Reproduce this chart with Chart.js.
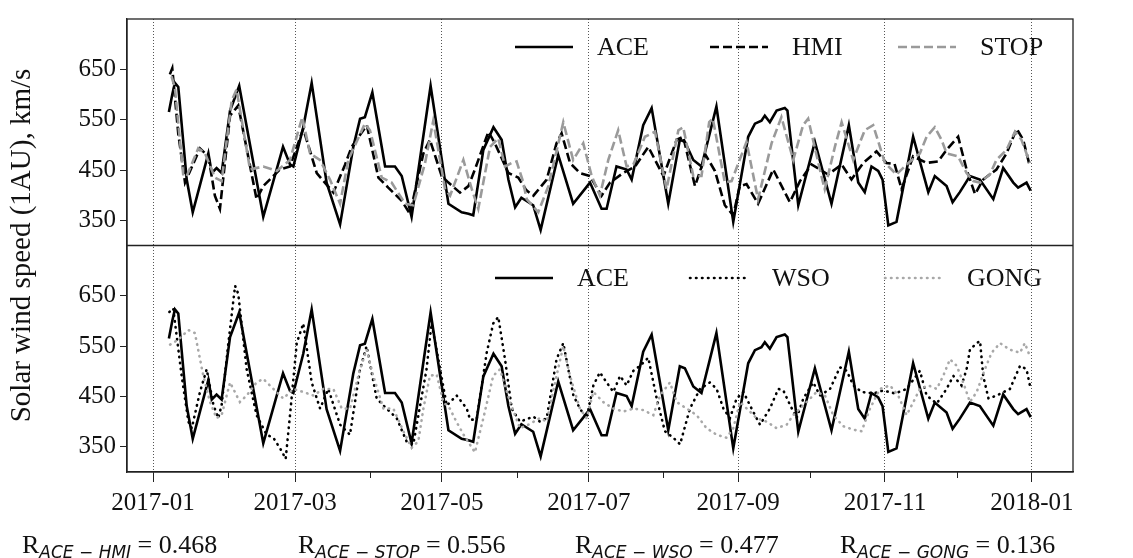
<!DOCTYPE html>
<html>
<head>
<meta charset="utf-8">
<title>Solar wind speed 2017</title>
<script src="https://cdn.jsdelivr.net/npm/chart.js@4.4.1/dist/chart.umd.min.js"></script>
<style>
  html, body { margin: 0; padding: 0; background: #fff; }
  canvas { display: block; }
</style>
</head>
<body>
<canvas id="wind" width="1133" height="558"></canvas>
<script>
// x is day of 2017 (0 = 1 Jan 2017), y is speed in km/s
const monthStartDays = [0, 31, 59, 90, 120, 151, 181, 212, 243, 273, 304, 334, 365];
const monthLabels = ['2017-01', '', '2017-03', '', '2017-05', '', '2017-07', '', '2017-09', '', '2017-11', '', '2018-01'];
const speedTicks = [350, 450, 550, 650];

const aceDay = [6.6, 8, 9.1, 10.5, 14, 16.5, 19.5, 23, 24.4, 26.4, 28.5, 32, 35.8, 45.8, 54, 56.9, 58.3, 62.4, 65.9, 72.1, 77.7,
  83.2, 86, 88, 91.1, 96.4, 100.5, 103.3, 107.4, 115.3, 122.7, 128.2, 131, 133, 137.2, 141.4, 144.8, 147.6, 150.4, 153,
  157.9, 161, 168.3, 174.5, 181.5, 186.3, 188.4, 192.5, 196.7, 198.8, 203.6, 207.1, 214, 218.8, 220.9, 224.4, 227.8, 234,
  241, 247.2, 250, 252.7, 254.1, 256.2, 259, 262.4, 263.5, 268, 274.9, 281.8, 289, 292.9, 295.6, 298.4, 301.2, 303, 305.4,
  308.8, 315.7, 322, 324.7, 329.6, 332.1, 335.1, 339.3, 343.4, 349, 353.1, 357.3, 359.3, 362.8, 364.5];
const aceKms = [565, 600, 623, 615, 431, 366, 420, 483, 444, 454, 444, 568, 617, 357, 496, 461, 457, 535, 623, 425, 342,
  496, 552, 555, 604, 457, 457, 438, 357, 617, 383, 366, 363, 360, 490, 535, 510, 431, 376, 395,
  380, 331, 480, 383, 425, 373, 373, 457, 451, 431, 539, 573, 383, 510, 506, 470, 457, 576,
  347, 516, 542, 548, 558, 545, 568, 573, 568, 380, 506, 383, 539, 425, 406, 457, 448, 431, 340,
  347, 516, 406, 438, 418, 386, 406, 438, 431, 392, 454, 425, 415, 425, 409];

const hmiDay = [7, 8, 10.5, 13.3, 19.5, 23, 25.7, 27.8, 32, 35.4, 43, 45.8, 52.7, 56.9, 62.4, 68, 74.9, 79.8, 82.5, 88.8,
  93.6, 97.7, 103.3, 106.7, 112.3, 115, 119.9, 122.7, 127.5, 131, 133.7, 139.3, 142, 147.6, 151.7, 155, 158, 163.5, 167.6,
  169.7, 173.2, 177.3, 181.5, 186.3, 189.8, 195.3, 200.2, 205.7, 212, 217.5, 220.2, 225.1, 229.5, 233.4, 237.5, 241, 243.7,
  246.5, 251.3, 257.6, 264.5, 268.7, 273.5, 280.4, 286, 290.1, 295, 300.5, 304.6, 308, 310.9, 315.7, 321.3, 326.1, 329.6,
  334.4, 337.9, 341.4, 344.8, 350.3, 354.5, 358.7, 361.4, 364.2];
const hmiKms = [640, 652, 522, 425, 493, 477, 399, 373, 558, 578, 392, 418, 451, 457, 532, 444, 405, 461, 496, 539,
  435, 415, 389, 363, 483, 510, 438, 425, 405, 418, 451, 526, 503, 444, 435, 410, 399, 431, 503,
  523, 464, 444, 438, 399, 425, 444, 457, 496, 438, 510, 516, 418, 480, 448, 380, 360, 418,
  422, 383, 451, 386, 428, 461, 441, 461, 431, 464, 487, 464, 462, 412, 477, 464, 467, 490,
  516, 451, 402, 431, 451, 483, 532, 510, 457];

const stopDay = [7.7, 9.1, 12.6, 14, 18.8, 21.6, 25.7, 28.5, 32.7, 34.7, 40.3, 45.8, 51.4, 56.9, 62, 65.2, 69.3, 73.5, 77.7,
  81.1, 88, 90.1, 95, 99.1, 104.7, 108.1, 113, 116.4, 121.3, 123.4, 128.9, 132.4, 135.1, 140, 143.4, 146.2, 149, 151, 153.8,
  155.2, 160, 164.2, 170.4, 174.5, 178.7, 182.2, 185.6, 189.1, 193.2, 196.7, 199.5, 204.3, 208.5, 213.3, 218.2, 220.2, 224.4,
  227.8, 231, 232.5, 237.5, 240.3, 246.5, 251.3, 256.9, 261, 265.9, 270, 272.1, 277.6, 279, 283.2, 286, 290.8, 295.6, 299.1,
  304, 308.8, 313, 318.5, 321.3, 324.7, 327.5, 329.6, 334.4, 337.9, 340.7, 343.4, 347.6, 350.3, 354.5, 358, 360.7, 364.2];
const stopKms = [636, 613, 438, 438, 493, 483, 435, 428, 588, 610, 451, 457, 448, 470, 555, 483, 470, 431, 383,
  470, 542, 529, 435, 425, 383, 380, 464, 548, 412, 399, 470, 412, 373, 496, 513, 457, 464, 467, 425,
  392, 366, 418, 545, 470, 503, 438, 399, 470, 529, 457, 461, 516, 526, 412, 529, 535, 438,
  438, 545, 552, 425, 428, 506, 392, 503, 555, 470, 539, 552, 438, 412, 496, 545, 470, 529, 539,
  464, 441, 461, 483, 516, 535, 510, 483, 477, 444, 428, 425, 441, 470, 490, 526, 510, 464];

const wsoDay = [6.8, 8.4, 11.9, 14.7, 16.1, 19.5, 22.3, 25.1, 27.1, 28.5, 31.3, 34.1, 35.4, 38.9, 43, 47.2, 50, 53.4, 55.1,
  56.9, 59.7, 62.4, 65.9, 69.4, 72.8, 77.7, 81.8, 86, 88.7, 92.9, 97, 101.2, 105.3, 108.1, 113.6, 115.7, 118.5, 122, 126.1,
  130.3, 131.7, 134.4, 138.6, 141.3, 143.4, 146.2, 149, 152.4, 158, 160.7, 163.5, 167.6, 170.4, 174.6, 177.3, 180.1, 182.9,
  185.6, 188.4, 191.2, 194, 196.7, 199.5, 202.3, 205.7, 209.2, 212.6, 216.1, 218.9, 223, 227.2, 231.3, 234.1, 236.9, 239.6,
  242.4, 245.2, 248.6, 252.1, 256.2, 259.7, 261.8, 264.6, 267.3, 270.1, 274.2, 277, 281.2, 285.3, 288.1, 290.9, 294.3,
  299.2, 303.3, 308.2, 313, 318.5, 321.3, 325.5, 329.6, 332.4, 335.8, 337.9, 339.3, 342.1, 343.5, 344.8, 347, 350.4,
  355.9, 360.1, 362.8, 364.2];
const wsoKms = [618, 625, 491, 400, 387, 459, 504, 433, 407, 433, 556, 670, 654, 504, 413, 374, 368, 342, 326,
  413, 556, 595, 478, 426, 465, 394, 374, 504, 550, 446, 426, 407, 361, 355, 504, 595, 524, 432, 452,
  426, 404, 404, 537, 595, 608, 524, 426, 400, 410, 400, 407, 524, 556, 452, 426, 407, 472,
  498, 478, 459, 491, 472, 501, 511, 527, 446, 381, 368, 355, 426, 465, 478, 465, 426, 407,
  446, 459, 426, 394, 426, 465, 462, 433, 407, 446, 478, 452, 465, 508, 501, 472, 459,
  456, 462, 456, 465, 501, 452, 436, 465, 491, 472, 504, 543, 556, 560, 491, 446, 452,
  465, 511, 504, 472];

const gongDay = [7.1, 10.5, 14.7, 17.4, 20.9, 23.7, 26.4, 28.5, 32, 36.1, 38.9, 43, 45.8, 50, 54.1, 58.3, 62.4, 66.6, 70.7,
  74.9, 78.4, 81.8, 86, 88.7, 91.5, 95.7, 99.8, 104, 107.4, 110.2, 112.3, 115, 117.8, 120.6, 123.3, 126, 129, 133.7, 137.2,
  141.3, 144.1, 148.3, 152.4, 155.9, 160.7, 163.5, 167.6, 170.4, 173.2, 177.3, 180.1, 182.9, 187, 191.2, 195.3, 199.5,
  203.6, 207.8, 210.6, 214.7, 217.5, 221.6, 225.8, 229.9, 234.1, 238.2, 241, 243.8, 246.6, 250.7, 254.9, 259, 263.2,
  265.9, 271.5, 275.6, 279.1, 282.5, 286.7, 290.9, 294.3, 297.8, 301.9, 306.1, 309.5, 313, 315.8, 318.5, 322, 325.5,
  328.2, 331, 333.8, 336.5, 339.3, 342.1, 345.5, 348.3, 351.8, 355.9, 360.1, 362.1, 364.2];
const gongKms = [553, 563, 582, 576, 491, 439, 407, 413, 478, 439, 452, 478, 485, 465, 446, 465, 459, 452, 465,
  465, 426, 426, 504, 543, 491, 426, 426, 381, 348, 361, 426, 491, 494, 439, 426, 400, 374, 339, 407,
  491, 504, 439, 387, 394, 407, 400, 491, 550, 491, 426, 407, 459, 439, 426, 420, 426,
  423, 413, 452, 478, 439, 426, 413, 387, 374, 368, 387, 439, 426, 407, 400, 387, 394,
  413, 439, 459, 452, 413, 391, 384, 381, 426, 465, 472, 452, 413, 439, 465, 472, 465,
  491, 524, 511, 478, 439, 459, 504, 537, 556, 543, 537, 556, 530];

const correlations = [
  ['ACE \u2212 HMI', '0.468'],
  ['ACE \u2212 STOP', '0.556'],
  ['ACE \u2212 WSO', '0.477'],
  ['ACE \u2212 GONG', '0.136']
];

const SERIF = '"Liberation Serif", "Times New Roman", serif';
const pairs = (xs, ys) => xs.map((x, i) => ({ x: x, y: ys[i] }));

function series(label, xs, ys, axis, color, dash, order) {
  return {
    label: label,
    data: pairs(xs, ys),
    yAxisID: axis,
    borderColor: color,
    borderWidth: 2.6,
    borderDash: dash,
    borderCapStyle: dash.length && dash[0] < 4 ? 'round' : 'butt',
    pointRadius: 0,
    tension: 0,
    fill: false,
    order: order
  };
}

const DASHED = [9, 4];
const DOTTED = [0.5, 5.5];

const datasets = [
  series('ACE', aceDay, aceKms, 'yTop', '#000', [], 3),
  series('HMI', hmiDay, hmiKms, 'yTop', '#000', DASHED, 2),
  series('STOP', stopDay, stopKms, 'yTop', '#9a9a9a', DASHED, 1),
  series('ACE', aceDay, aceKms, 'yBottom', '#000', [], 3),
  series('WSO', wsoDay, wsoKms, 'yBottom', '#000', DOTTED, 2),
  series('GONG', gongDay, gongKms, 'yBottom', '#a8a8a8', DOTTED, 1)
];

// frame around both panels, shorter minor ticks, legends, axis title, correlations
const decorations = {
  id: 'decorations',
  afterDatasetsDraw(chart) {
    const { ctx, chartArea: a, scales } = chart;
    ctx.save();

    ctx.strokeStyle = '#222';
    ctx.lineWidth = 1.3;
    ctx.strokeRect(a.left, a.top, a.right - a.left, a.bottom - a.top);
    ctx.beginPath();
    ctx.moveTo(a.left, scales.yTop.bottom);
    ctx.lineTo(a.right, scales.yTop.bottom);
    ctx.stroke();

    ctx.lineWidth = 1;
    monthStartDays.forEach((d, i) => {
      if (i % 2 === 0) return;
      const x = Math.round(scales.x.getPixelForValue(d)) + 0.5;
      ctx.beginPath();
      ctx.moveTo(x, a.bottom);
      ctx.lineTo(x, a.bottom + 6);
      ctx.stroke();
    });

    const legends = [
      { y: 47, starts: [515, 710, 898], items: chart.data.datasets.slice(0, 3) },
      { y: 278, starts: [495, 690, 885], items: chart.data.datasets.slice(3, 6) }
    ];
    ctx.font = '26px ' + SERIF;
    ctx.textBaseline = 'middle';
    ctx.fillStyle = '#111';
    legends.forEach(lg => {
      lg.items.forEach((ds, i) => {
        const x0 = lg.starts[i];
        ctx.save();
        ctx.strokeStyle = ds.borderColor;
        ctx.lineWidth = ds.borderWidth;
        ctx.setLineDash(ds.borderDash);
        ctx.lineCap = ds.borderCapStyle;
        ctx.beginPath();
        ctx.moveTo(x0, lg.y);
        ctx.lineTo(x0 + 58, lg.y);
        ctx.stroke();
        ctx.restore();
        ctx.fillText(ds.label, x0 + 82, lg.y + 1);
      });
    });

    ctx.save();
    ctx.translate(22, (a.top + a.bottom) / 2);
    ctx.rotate(-Math.PI / 2);
    ctx.textAlign = 'center';
    ctx.font = '29px ' + SERIF;
    ctx.fillText('Solar wind speed (1AU), km/s', 0, 0);
    ctx.restore();

    const rStarts = [22, 298, 575, 840];
    ctx.textBaseline = 'alphabetic';
    correlations.forEach((c, i) => {
      let x = rStarts[i];
      const base = 553;
      ctx.font = '26px ' + SERIF;
      ctx.fillText('R', x, base);
      x += ctx.measureText('R').width;
      ctx.font = 'italic 17px "DejaVu Sans", sans-serif';
      ctx.fillText(c[0], x, base + 5);
      x += ctx.measureText(c[0]).width;
      ctx.font = '26px ' + SERIF;
      ctx.fillText(' = ' + c[1], x, base);
    });
    ctx.restore();
  }
};

const tickFont = { family: SERIF, size: 25 };

function speedAxis() {
  return {
    type: 'linear',
    position: 'left',
    stack: 'panels',
    stackWeight: 1,
    min: 300,
    max: 750,
    afterBuildTicks: scale => { scale.ticks = speedTicks.map(v => ({ value: v })); },
    afterFit: scale => { scale.width = 127; },
    ticks: { font: tickFont, color: '#111', padding: 4 },
    grid: { drawOnChartArea: false, tickLength: 7, tickColor: '#222' },
    border: { color: '#222', width: 1.3 }
  };
}

new Chart(document.getElementById('wind'), {
  type: 'line',
  data: { datasets: datasets },
  plugins: [decorations],
  options: {
    responsive: false,
    animation: false,
    layout: { padding: { top: 12, right: 60, left: 0, bottom: 0 } },
    plugins: { legend: { display: false }, tooltip: { enabled: false } },
    scales: {
      x: {
        type: 'linear',
        min: -10.8,
        max: 382.1,
        afterBuildTicks: scale => { scale.ticks = monthStartDays.map(v => ({ value: v })); },
        afterFit: scale => { scale.height = 86; },
        ticks: {
          font: tickFont,
          color: '#111',
          autoSkip: false,
          maxRotation: 0,
          padding: 6,
          callback: (value, index) => monthLabels[index]
        },
        grid: {
          color: c => (c.index % 2 === 0 ? '#555' : 'rgba(0,0,0,0)'),
          tickColor: c => (c.index % 2 === 0 ? '#222' : 'rgba(0,0,0,0)'),
          lineWidth: 1,
          tickLength: 10
        },
        border: { color: '#222', width: 1.3, dash: [1, 2] }
      },
      yBottom: speedAxis(),
      yTop: speedAxis()
    }
  }
});
</script>
</body>
</html>
